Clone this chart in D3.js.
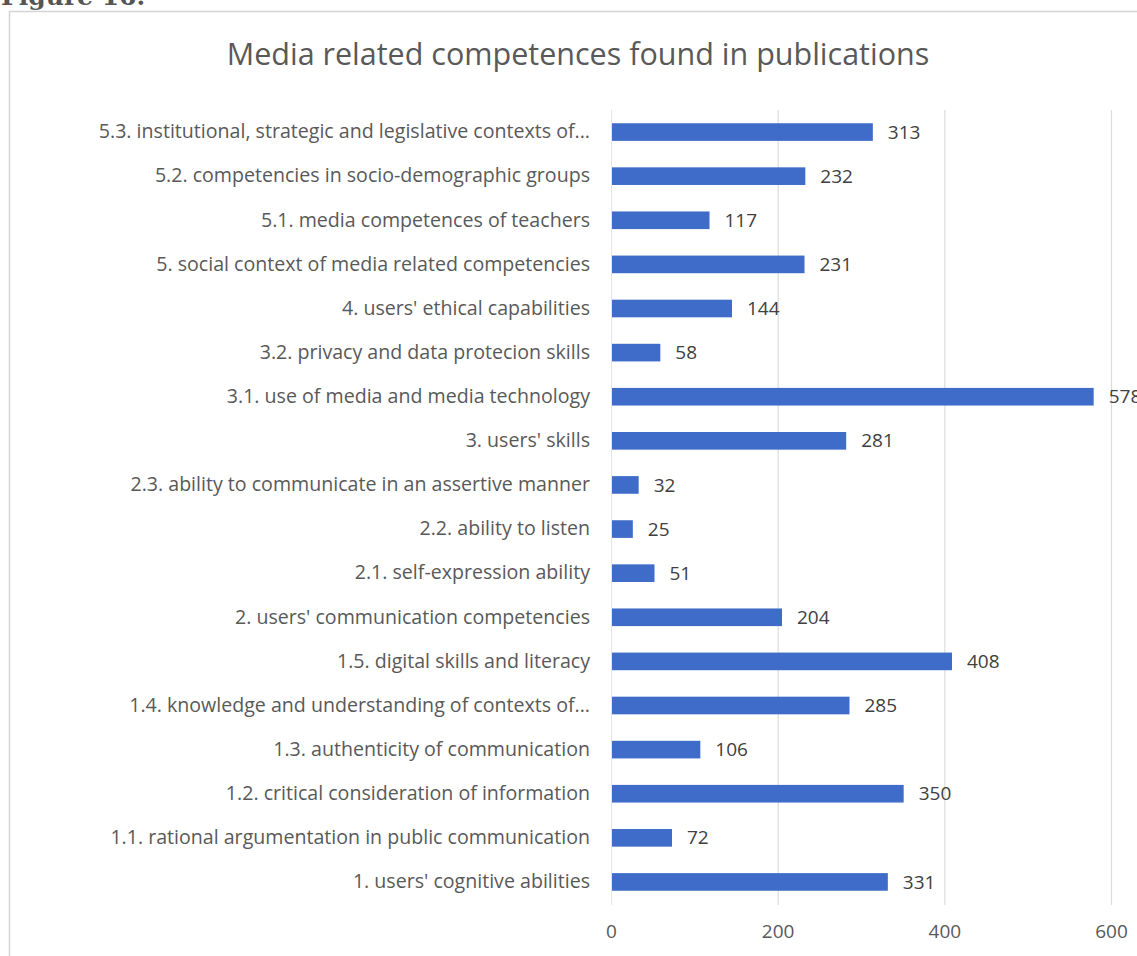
<!DOCTYPE html>
<html>
<head>
<meta charset="utf-8">
<script src="https://cdn.jsdelivr.net/npm/d3@7"></script>
<style>
  html, body { margin: 0; padding: 0; background: #fff; }
  svg { display: block; }
</style>
</head>
<body>
<svg id="chart" width="1137" height="956"></svg>
<script>
// Competence categories, listed from the bottom of the chart upwards
const categories = [
  "1. users' cognitive abilities",
  "1.1. rational argumentation in public communication",
  "1.2. critical consideration of information",
  "1.3. authenticity of communication",
  "1.4. knowledge and understanding of contexts of...",
  "1.5. digital skills and literacy",
  "2. users' communication competencies",
  "2.1. self-expression ability",
  "2.2. ability to listen",
  "2.3. ability to communicate in an assertive manner",
  "3. users' skills",
  "3.1. use of media and media technology",
  "3.2. privacy and data protecion skills",
  "4. users' ethical capabilities",
  "5. social context of media related competencies",
  "5.1. media competences of teachers",
  "5.2. competencies in socio-demographic groups",
  "5.3. institutional, strategic and legislative contexts of..."
];
// Number of publications per competence
const counts = [331, 72, 350, 106, 285, 408, 204, 51, 25, 32, 281, 578, 58, 144, 231, 117, 232, 313];
const xTicks = [0, 200, 400, 600];

const svg = d3.select("#chart");
const font = "'Open Sans', 'Noto Sans', sans-serif";

// Figure caption above the frame
svg.append("text")
  .attr("x", 1).attr("y", 5)
  .attr("font-family", "'DejaVu Serif', 'Liberation Serif', serif")
  .attr("font-weight", "bold")
  .attr("font-size", 25)
  .attr("fill", "#555")
  .text("Figure 16.");

// Chart frame
svg.append("rect")
  .attr("x", 9.5).attr("y", 11.5)
  .attr("width", 1150).attr("height", 970)
  .attr("fill", "#fff")
  .attr("stroke", "#d4d4d4")
  .attr("stroke-width", 1.5);

// Title
svg.append("text")
  .attr("x", 578).attr("y", 65)
  .attr("text-anchor", "middle")
  .attr("font-family", font)
  .attr("font-size", 30.5)
  .attr("fill", "#595959")
  .text("Media related competences found in publications");

const plotTop = 110, plotBottom = 904;

const x = d3.scaleLinear().domain([0, 600]).range([611, 1111]);
const y = d3.scaleBand()
  .domain(categories.slice().reverse())
  .range([plotTop, plotBottom])
  .paddingInner(0.6)
  .paddingOuter(0.3);

// Vertical gridlines
svg.append("g")
  .selectAll("line")
  .data(xTicks.filter(t => t > 0))
  .join("line")
  .attr("x1", d => x(d) + 0.5).attr("x2", d => x(d) + 0.5)
  .attr("y1", plotTop).attr("y2", plotBottom + 1)
  .attr("stroke", "#dcdcdc")
  .attr("stroke-width", 1.2);

// Category axis line
svg.append("line")
  .attr("x1", x(0) + 0.5).attr("x2", x(0) + 0.5)
  .attr("y1", plotTop).attr("y2", plotBottom + 1)
  .attr("stroke", "#e6e6e6");

// Value axis tick labels
const xAxis = d3.axisBottom(x).tickValues(xTicks).tickSize(0).tickPadding(0);
const gx = svg.append("g")
  .attr("transform", `translate(0, ${plotBottom + 20})`)
  .call(xAxis);
gx.select(".domain").remove();
gx.selectAll("text")
  .attr("font-family", font)
  .attr("font-size", 19)
  .attr("fill", "#595959");

// Category labels
const yAxis = d3.axisLeft(y).tickSize(0).tickPadding(0);
const gy = svg.append("g")
  .attr("transform", `translate(${x(0) - 21}, 0)`)
  .call(yAxis);
gy.select(".domain").remove();
gy.selectAll("text")
  .attr("font-family", font)
  .attr("font-size", 19.6)
  .attr("fill", "#595959");

const rows = categories.map((c, i) => ({ c, v: counts[i] }));

// Bars
svg.append("g")
  .selectAll("rect")
  .data(rows)
  .join("rect")
  .attr("x", x(0) + 1)
  .attr("y", d => y(d.c))
  .attr("width", d => x(d.v) - x(0))
  .attr("height", y.bandwidth())
  .attr("fill", "#3f6cc8");

// Value labels
svg.append("g")
  .selectAll("text")
  .data(rows)
  .join("text")
  .attr("x", d => x(d.v) + 16)
  .attr("y", d => y(d.c) + y.bandwidth() / 2)
  .attr("dy", "0.35em")
  .attr("font-family", font)
  .attr("font-size", 19)
  .attr("fill", "#404040")
  .text(d => d.v);
</script>
</body>
</html>
